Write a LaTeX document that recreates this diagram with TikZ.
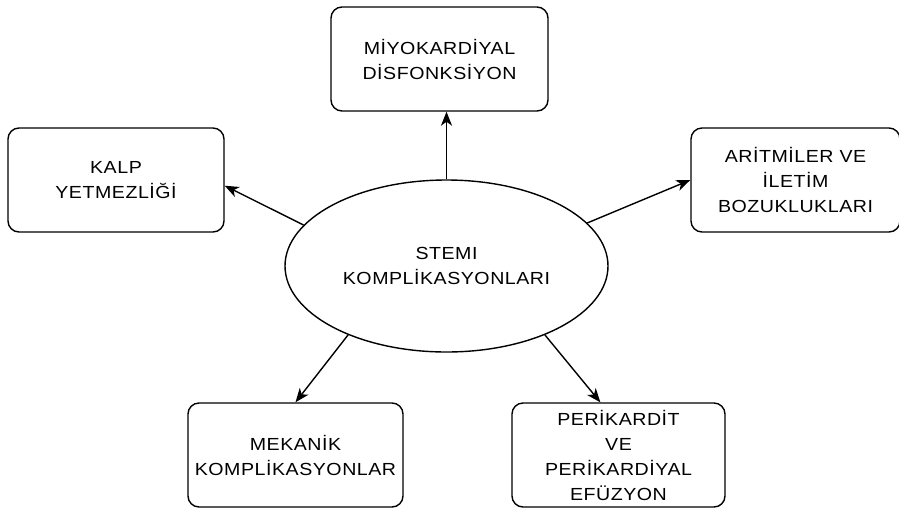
\documentclass[tikz,border=0pt]{standalone}
\usepackage{fontspec}
\setmainfont{Liberation Sans}[FakeStretch=1.12, LetterSpace=3]
\usetikzlibrary{shapes.geometric,arrows.meta}
\begin{document}
\begin{tikzpicture}[x=1pt,y=-1pt,
  box/.style={draw, line width=1.4pt, rounded corners=11pt, align=center,
    inner sep=0pt, font=\fontsize{17.5}{25}\selectfont, text=black},
  oval/.style={draw, ellipse, line width=1.4pt, align=center, inner sep=0pt,
    minimum width=323pt, minimum height=172pt, font=\fontsize{17.5}{25}\selectfont, text=black},
  conn/.style={line width=1.4pt, -{Stealth[length=14pt,width=11pt,inset=4pt]}}]
\useasboundingbox (0,0) rectangle (899,507);
\node[oval] (e) at (446.5,266) {STEMI\\KOMPLİKASYONLARI};
\node[box, minimum width=217pt, minimum height=104pt] (top) at (439.5,59) {MİYOKARDİYAL\\DİSFONKSİYON};
\node[box, minimum width=216pt, minimum height=104pt] (kalp) at (116,180) {KALP\\YETMEZLİĞİ};
\node[box, minimum width=209pt, minimum height=104pt] (arit) at (795.5,180) {ARİTMİLER VE\\İLETİM\\BOZUKLUKLARI};
\node[box, minimum width=215pt, minimum height=104pt] (mek) at (295.5,455) {MEKANİK\\KOMPLİKASYONLAR};
\node[box, minimum width=213pt, minimum height=104pt] (per) at (618.5,455) {PERİKARDİT\\VE\\PERİKARDİYAL\\EFÜZYON};
\draw[conn] (e.north) -- (e.north |- top.south);
\draw[conn] (e.164.9) -- (kalp.-3);
\draw[conn] (e.17) -- (arit.west);
\draw[conn] (e.215.6) -- (mek.north);
\draw[conn] (e.-35) -- (per.109.6);
\end{tikzpicture}
\end{document}
